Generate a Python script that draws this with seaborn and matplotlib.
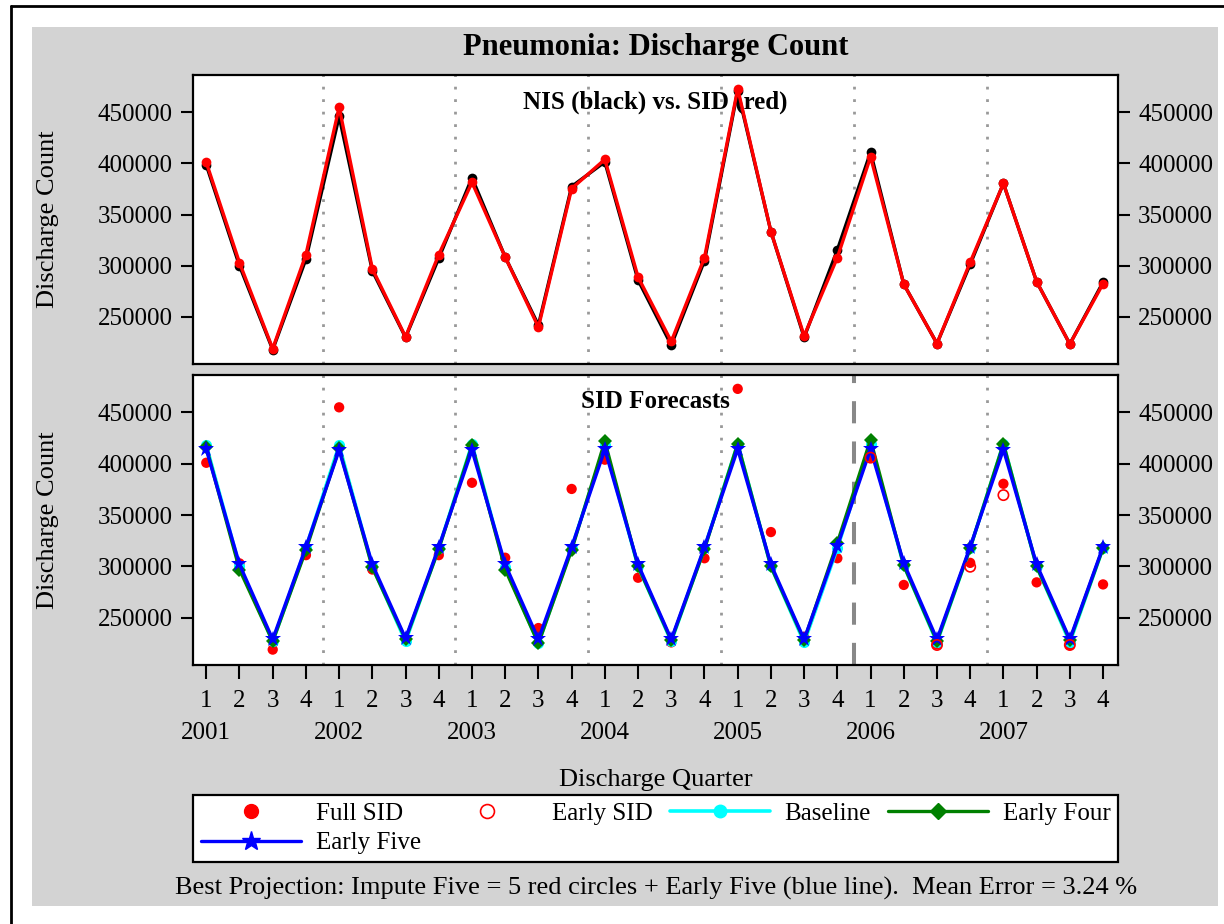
import numpy as np
import pandas as pd
import matplotlib
matplotlib.use("Agg")
import matplotlib.pyplot as plt
import seaborn as sns
from matplotlib.lines import Line2D
from matplotlib.patches import Rectangle

# Quarter labels and years on the x axis
years = [2001, 2002, 2003, 2004, 2005, 2006, 2007]
quarter_labels = ["1", "2", "3", "4"] * len(years)
qidx = list(range(len(quarter_labels)))

# Top panel: NIS (black) vs. SID (red)
nis = [398500, 300000, 218000, 306500,
       446000, 295000, 230000, 307500,
       386000, 308500, 242000, 377500,
       401500, 286000, 222500, 305000,
       471000, 333500, 230000, 315500,
       411000, 282000, 224000, 301500,
       380500, 284500, 223500, 284000]
sid_full = [401000, 303000, 219000, 311000,
            455000, 297000, 230500, 311000,
            381500, 308500, 240000, 375500,
            404000, 289000, 226000, 308000,
            473000, 333500, 231500, 308000,
            406500, 282000, 224000, 303500,
            380500, 284500, 223500, 282500]

# Bottom panel: forecasts
sid_early = [None] * 20 + [406000, None, 223500, 299700, 369500, None, 223500, None]
baseline = [418000, 300000, 227000, 318000,
            418000, 300000, 227000, 318000,
            419000, 299000, 225000, 318000,
            418000, 300000, 227000, 318000,
            419500, 300000, 226000, 318000,
            419000, 301000, 226000, 318000,
            419500, 300000, 226000, 318000]
early_four = [416000, 297000, 227000, 316000,
              415000, 299000, 229000, 317000,
              418000, 297000, 225000, 316000,
              422000, 300000, 228000, 317000,
              419500, 300000, 228000, 323000,
              423500, 301000, 227000, 318000,
              419500, 300000, 228000, 318000]
early_five = [414000, 302000, 229000, 319000,
              413300, 302000, 230000, 319000,
              413300, 302000, 229000, 319000,
              414000, 302000, 229000, 319000,
              414300, 302000, 229000, 319800,
              414300, 303300, 229000, 319200,
              413900, 302000, 229000, 319200]

year_breaks = [3.5, 7.5, 11.5, 15.5, 19.5, 23.5]
forecast_start = 19.5
yticks = [250000, 300000, 350000, 400000, 450000]

sns.set_theme(style="white")
plt.rcParams['font.family'] = ['Liberation Serif', 'DejaVu Serif']
plt.rcParams['text.color'] = 'black'
plt.rcParams['axes.labelcolor'] = 'black'

W, H = 1224, 924
fig = plt.figure(figsize=(W / 100, H / 100), dpi=100)
fig.patch.set_facecolor('white')

# Gray background panel and outer frame
fig.add_artist(Rectangle((32 / W, 1 - 906 / H), 1186 / W, 879 / H, transform=fig.transFigure,
                         facecolor='#d3d3d3', edgecolor='none', zorder=-10))
fig.add_artist(Line2D([11 / W, 1], [1 - 6 / H, 1 - 6 / H], color='black', lw=2))
fig.add_artist(Line2D([11 / W, 11 / W], [0, 1 - 6 / H], color='black', lw=2))

ax1 = fig.add_axes([193 / W, 1 - 364 / H, 925 / W, 289 / H])
ax2 = fig.add_axes([193 / W, 1 - 665 / H, 925 / W, 290 / H])

# year separators
for x in year_breaks:
    ax1.axvline(x, color='#999999', lw=2, linestyle=(0, (1, 3.5)), zorder=1)
    if x != forecast_start:
        ax2.axvline(x, color='#999999', lw=2, linestyle=(0, (1, 3.5)), zorder=1)
ax2.axvline(forecast_start, color='#888888', lw=2.9, linestyle=(0, (5.5, 4.5)), zorder=1)

# Top panel
sns.lineplot(x=qidx, y=nis, ax=ax1, color='black', lw=2.4, marker='o', markersize=7,
             markeredgecolor='black', markeredgewidth=0, legend=False, zorder=3)
sns.lineplot(x=qidx, y=sid_full, ax=ax1, color='red', lw=2.4, marker='o', markersize=7,
             markeredgecolor='red', markeredgewidth=0, legend=False, zorder=4)
ax1.tick_params(axis='x', bottom=False, labelbottom=False)
ax1.text(0.5, 0.905, 'NIS (black) vs. SID (red)', transform=ax1.transAxes, ha='center', va='center',
         fontsize=18, fontweight='bold')

# Bottom panel
sns.scatterplot(x=qidx, y=sid_full, ax=ax2, color='red', s=55, edgecolor='none', zorder=3, legend=False)
sns.lineplot(x=qidx, y=baseline, ax=ax2, color='cyan', lw=2.6, marker='o', markersize=8,
             markeredgecolor='cyan', markeredgewidth=0, legend=False, zorder=4)
sns.lineplot(x=qidx, y=early_four, ax=ax2, color='green', lw=2.4, marker='D', markersize=7,
             markeredgecolor='green', markeredgewidth=0, legend=False, zorder=5)
sns.lineplot(x=qidx, y=early_five, ax=ax2, color='blue', lw=2.4, marker='*', markersize=12,
             markeredgecolor='blue', markeredgewidth=0, legend=False, zorder=6)
early = pd.Series(sid_early, dtype=float)
sns.scatterplot(x=qidx, y=early, ax=ax2, facecolor='none', edgecolor='red', linewidth=1.2,
                s=55, zorder=7, legend=False)
ax2.text(0.5, 0.91, 'SID Forecasts', transform=ax2.transAxes, ha='center', va='center',
         fontsize=18, fontweight='bold')

for ax in (ax1, ax2):
    ax.set_facecolor('white')
    for s in ax.spines.values():
        s.set_color('black')
        s.set_linewidth(1.6)
    ax.set_xlim(-0.4, 27.45)
    ax.set_ylim(204000, 486500)
    ax.set_yticks(yticks, labels=[str(v) for v in yticks])
    ax.tick_params(axis='y', left=True, right=True, labelleft=True, labelright=True,
                   direction='out', length=8.5, width=1.5, pad=6, labelsize=18, colors='black')
    ax.set_xlabel('')
    ax.set_ylabel('')

ax2.set_xticks(qidx, labels=quarter_labels)
ax2.tick_params(axis='x', bottom=True, direction='out', length=10, width=1.5, pad=8,
                labelsize=18, colors='black')
for i, yr in enumerate(years):
    ax2.text(i * 4, -0.2345, str(yr), transform=ax2.get_xaxis_transform(),
             ha='center', va='center', fontsize=18)

# Figure-level text
fig.text(656 / W, 1 - 47 / H, 'Pneumonia: Discharge Count', ha='center', va='center',
         fontsize=22, fontweight='bold')
fig.text(48 / W, 1 - 219.5 / H, 'Discharge Count', rotation=90, ha='center', va='center', fontsize=19)
fig.text(48 / W, 1 - 520 / H, 'Discharge Count', rotation=90, ha='center', va='center', fontsize=19)
fig.text(656 / W, 1 - 780 / H, 'Discharge Quarter', ha='center', va='center', fontsize=19)
fig.text(656 / W, 1 - 888 / H,
         'Best Projection: Impute Five = 5 red circles + Early Five (blue line).  Mean Error = 3.24 %',
         ha='center', va='center', fontsize=19)

# Legend
handles = [
    Line2D([], [], ls='none', marker='o', color='red', ms=10, mec='red'),
    Line2D([], [], color='blue', lw=2.4, marker='*', ms=14, mec='blue'),
    Line2D([], [], ls='none', marker='o', mfc='none', mec='red', ms=10, mew=1.2),
    Line2D([], [], color='cyan', lw=2.6, marker='o', ms=9, mec='cyan'),
    Line2D([], [], color='green', lw=2.4, marker='D', ms=8, mec='green'),
]
labels = ['Full SID', 'Early Five', 'Early SID', 'Baseline', 'Early Four']
leg = fig.legend(handles, labels, loc='lower left', ncol=4, mode='expand',
                 bbox_to_anchor=(193 / W, 1 - 862 / H, 925 / W, 67 / H), borderaxespad=0,
                 fontsize=18, handlelength=4.0, handletextpad=0.6, labelspacing=0.29,
                 borderpad=0.3, fancybox=False, frameon=True)
leg.get_frame().set_edgecolor('black')
leg.get_frame().set_linewidth(1.6)
leg.get_frame().set_facecolor('white')
leg.get_frame().set_alpha(1)

fig.savefig('out.png', dpi=100)
